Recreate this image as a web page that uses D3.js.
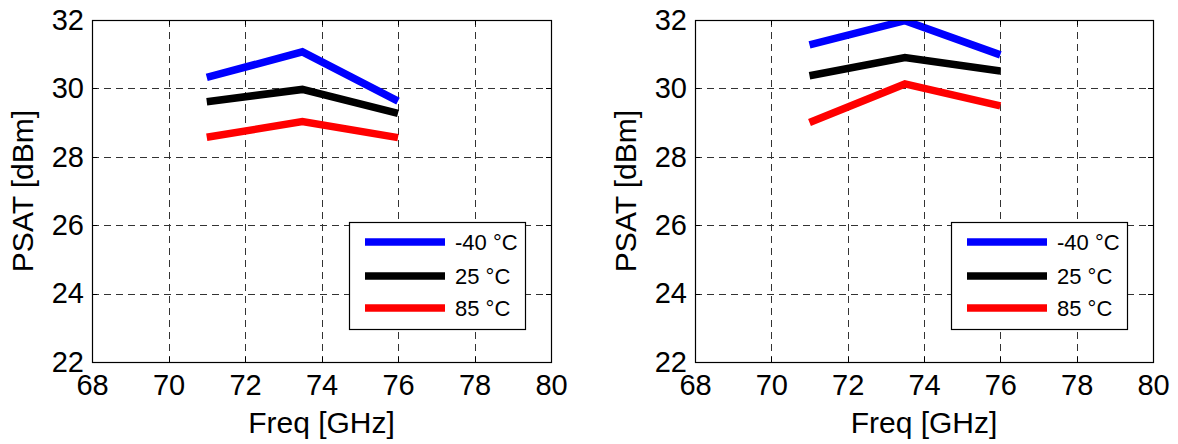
<!DOCTYPE html>
<html>
<head>
<meta charset="utf-8">
<script src="https://cdn.jsdelivr.net/npm/d3@7"></script>
<style>
  html, body { margin: 0; padding: 0; background: #fff; }
  svg { display: block; font-family: "Liberation Sans", Arial, sans-serif; }
</style>
</head>
<body>
<svg id="chart" width="1178" height="444"></svg>
<script>
// ---- data ----
const freq = [71, 73.5, 76];
const seriesNames = ["-40 °C", "25 °C", "85 °C"];
const seriesColors = ["#0000ff", "#000000", "#ff0000"];
const xTicks = [68, 70, 72, 74, 76, 78, 80];
const yTicks = [22, 24, 26, 28, 30, 32];
const xLabel = "Freq [GHz]";
const yLabel = "PSAT [dBm]";

const leftM40 = [30.32, 31.07, 29.63];
const left25  = [29.61, 29.97, 29.27];
const left85  = [28.57, 29.03, 28.56];

const rightM40 = [31.27, 31.98, 30.98];
const right25  = [30.37, 30.90, 30.51];
const right85  = [29.00, 30.13, 29.49];

const panels = [
  { x0: 92,  x1: 551,  series: [leftM40, left25, left85] },
  { x0: 695, x1: 1153, series: [rightM40, right25, right85] }
];

const svg = d3.select("#chart");
const plotTop = 20, plotBottom = 362;

panels.forEach((p, pi) => {
  const x = d3.scaleLinear().domain([68, 80]).range([p.x0, p.x1]);
  const y = d3.scaleLinear().domain([22, 32]).range([plotBottom, plotTop]);
  const g = svg.append("g");
  const w = p.x1 - p.x0, h = plotBottom - plotTop;

  // grid
  const gridStyle = sel => sel.attr("stroke", "#333").attr("stroke-width", 1)
      .attr("stroke-dasharray", "7,5");
  g.append("g").selectAll("line").data(xTicks.slice(1, -1)).join("line")
    .attr("x1", d => Math.round(x(d)) + 0.5).attr("x2", d => Math.round(x(d)) + 0.5)
    .attr("y1", plotTop).attr("y2", plotBottom).call(gridStyle);
  g.append("g").selectAll("line").data(yTicks.slice(1, -1)).join("line")
    .attr("y1", d => Math.round(y(d)) + 0.5).attr("y2", d => Math.round(y(d)) + 0.5)
    .attr("x1", p.x0).attr("x2", p.x1).call(gridStyle);

  // clip
  const clipId = "clip" + pi;
  svg.append("defs").append("clipPath").attr("id", clipId)
    .append("rect").attr("x", p.x0).attr("y", plotTop).attr("width", w).attr("height", h);

  // lines
  const line = d3.line().x((d, i) => x(freq[i])).y(d => y(d));
  g.append("g").attr("clip-path", `url(#${clipId})`)
    .selectAll("path").data(p.series).join("path")
    .attr("d", d => line(d))
    .attr("fill", "none")
    .attr("stroke", (d, i) => seriesColors[i])
    .attr("stroke-width", 7.5)
    .attr("stroke-linejoin", "miter")
    .attr("stroke-linecap", "butt");

  // axes with labels (bottom & left)
  const xAxis = d3.axisBottom(x).tickValues(xTicks).tickSize(0).tickPadding(12).tickFormat(d3.format("d"));
  const xa = g.append("g").attr("transform", `translate(0,${plotBottom})`).call(xAxis);
  xa.select(".domain").remove();
  xa.selectAll("text").attr("font-size", 29).attr("fill", "#000").attr("font-family", "Liberation Sans, Arial, sans-serif");

  const yAxis = d3.axisLeft(y).tickValues(yTicks).tickSize(0).tickPadding(8).tickFormat(d3.format("d"));
  const ya = g.append("g").attr("transform", `translate(${p.x0},0)`).call(yAxis);
  ya.select(".domain").remove();
  ya.selectAll("text").attr("font-size", 29).attr("fill", "#000").attr("font-family", "Liberation Sans, Arial, sans-serif");

  // inward ticks on all sides
  const tl = 5;
  const tk = g.append("g").attr("stroke", "#000").attr("stroke-width", 1);
  xTicks.forEach(t => {
    const xx = Math.round(x(t)) + 0.5;
    tk.append("line").attr("x1", xx).attr("x2", xx).attr("y1", plotBottom).attr("y2", plotBottom - tl);
    tk.append("line").attr("x1", xx).attr("x2", xx).attr("y1", plotTop).attr("y2", plotTop + tl);
  });
  yTicks.forEach(t => {
    const yy = Math.round(y(t)) + 0.5;
    tk.append("line").attr("y1", yy).attr("y2", yy).attr("x1", p.x0).attr("x2", p.x0 + tl);
    tk.append("line").attr("y1", yy).attr("y2", yy).attr("x1", p.x1).attr("x2", p.x1 - tl);
  });

  // box
  g.append("rect").attr("x", p.x0 + 0.5).attr("y", plotTop + 0.5).attr("width", w).attr("height", h)
    .attr("fill", "none").attr("stroke", "#000").attr("stroke-width", 1.2);

  // axis labels
  g.append("text").attr("x", (p.x0 + p.x1) / 2).attr("y", 433)
    .attr("text-anchor", "middle").attr("font-size", 30).text(xLabel);
  g.append("text").attr("transform", `translate(${p.x0 - 59},${(plotTop + plotBottom) / 2}) rotate(-90)`)
    .attr("text-anchor", "middle").attr("font-size", 30).text(yLabel);

  // legend
  const lx0 = p.x1 - 202, lx1 = p.x1 - 26, ly0 = 222, ly1 = 329;
  const lg = g.append("g");
  lg.append("rect").attr("x", lx0 + 0.5).attr("y", ly0 + 0.5).attr("width", lx1 - lx0).attr("height", ly1 - ly0)
    .attr("fill", "#fff").attr("stroke", "#000").attr("stroke-width", 1.2);
  const rowY = [242, 276, 308];
  seriesNames.forEach((name, i) => {
    lg.append("line").attr("x1", lx0 + 16).attr("x2", lx0 + 96)
      .attr("y1", rowY[i]).attr("y2", rowY[i])
      .attr("stroke", seriesColors[i]).attr("stroke-width", 7.5);
    lg.append("text").attr("x", lx0 + 106).attr("y", rowY[i] + 8)
      .attr("font-size", 22).text(name);
  });
});
</script>
</body>
</html>
